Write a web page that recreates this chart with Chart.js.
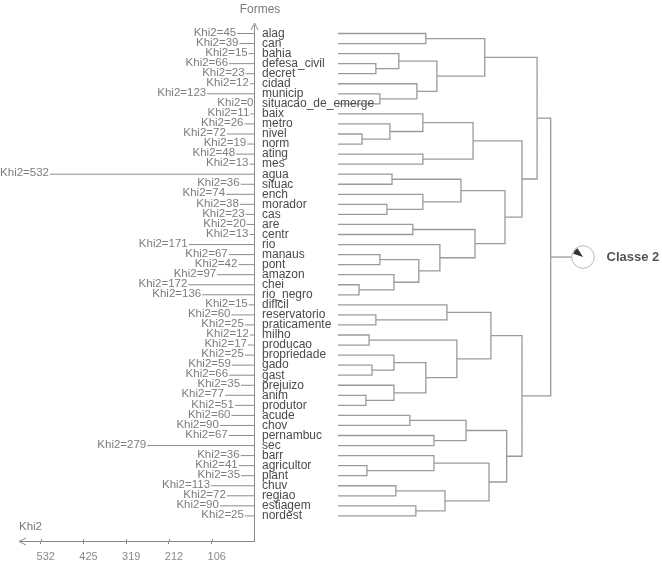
<!DOCTYPE html>
<html>
<head>
<meta charset="utf-8">
<script src="https://cdn.jsdelivr.net/npm/chart.js@4.4.1/dist/chart.umd.min.js"></script>
<style>
  html, body { margin: 0; padding: 0; background: #ffffff; }
  canvas { display: block; }
</style>
</head>
<body>
<canvas id="c" width="662" height="570"></canvas>
<script>
// ---------------- DATA ----------------
const leaves = [
  'alag', 'can', 'bahia', 'defesa_civil', 'decret', 'cidad', 'municip', 'situacao_de_emerge',
  'baix', 'metro', 'nivel', 'norm', 'ating', 'mes', 'agua', 'situac', 'ench', 'morador',
  'cas', 'are', 'centr', 'rio', 'manaus', 'pont', 'amazon', 'chei', 'rio_negro',
  'dificil', 'reservatorio', 'praticamente', 'milho', 'producao', 'propriedade', 'gado',
  'gast', 'prejuizo', 'anim', 'produtor', 'acude', 'chov', 'pernambuc', 'sec', 'barr',
  'agricultor', 'plant', 'chuv', 'regiao', 'estiagem', 'nordest'
];
const khi2 = [
  45, 39, 15, 66, 23, 12, 123, 0,
  11, 26, 72, 19, 48, 13, 532, 36, 74, 38,
  23, 20, 13, 171, 67, 42, 97, 172, 136,
  15, 60, 25, 12, 17, 25, 59,
  66, 35, 77, 51, 60, 90, 67, 279, 36,
  41, 35, 113, 72, 90, 25
];
const khiTicks = [532, 425.6, 319.2, 212.8, 106.4];
const khiTickLabels = ['532', '425', '319', '212', '106'];
// Dendrogram merges: [childA, childB, height(0-100)]; ids < 49 are leaves, id 49+k is merge k
const merges = [
  [3, 4, 17.8], [2, 49, 28.6], [6, 7, 19.7], [5, 51, 37.1], [50, 52, 46.5],
  [0, 1, 41.3], [54, 53, 69.0], [10, 11, 11.3], [9, 56, 24.4], [8, 57, 39.9],
  [12, 13, 39.9], [58, 59, 63.5], [14, 15, 25.4], [17, 18, 23.0], [16, 62, 39.9],
  [61, 63, 57.8], [19, 20, 35.2], [22, 23, 19.7], [25, 26, 9.9], [24, 67, 26.3],
  [66, 68, 38.0], [21, 69, 47.9], [65, 70, 64.4], [64, 71, 78.5], [60, 72, 86.5],
  [55, 73, 93.6], [28, 29, 17.8], [27, 75, 51.2], [30, 31, 14.6], [33, 34, 16.0],
  [32, 78, 26.3], [36, 37, 13.1], [35, 80, 26.3], [79, 81, 41.3], [77, 82, 55.9],
  [76, 83, 71.9], [38, 39, 33.8], [40, 41, 45.1], [85, 86, 60.2], [43, 44, 13.6],
  [42, 88, 45.1], [45, 46, 27.2], [47, 48, 36.6], [90, 91, 50.3], [89, 92, 71.0],
  [87, 93, 79.3], [84, 94, 86.5], [74, 95, 100]
];
const classLabel = 'Classe 2';
const classShare = 0.11;
const yAxisTitle = 'Formes';
const xAxisTitle = 'Khi2';

// ---------------- LAYOUT ----------------
const W = 662, H = 570;
const AREA = { left: 40.7, right: 580, top: 25, bottom: 541 };
const X_ZERO = 254.5;      // pixel of Khi2 = 0
const TICK_MAX_PX = 40.7;  // pixel of 532 on the bottom axis
const LAB_MAX_PX = 50;     // pixel where the longest Khi2 line starts
const DEND_ZERO = 338, DEND_FULL = 550.7;
const LEAF0 = 33.5, LEAF_STEP = 10.05;

const k1 = (X_ZERO - TICK_MAX_PX) / 532;
const k2 = (X_ZERO - LAB_MAX_PX) / 532;
const k3 = (DEND_FULL - DEND_ZERO) / 100;

const LINE_GREY = '#9a9a9a';

// ---------------- BUILD LINE DATA ----------------
const N = leaves.length;
const nodeY = [], nodeH = [];
for (let i = 0; i < N; i++) { nodeY[i] = i; nodeH[i] = 0; }
const dendData = [];
merges.forEach((m, k) => {
  const [a, b, h] = m;
  const id = N + k;
  nodeY[id] = (nodeY[a] + nodeY[b]) / 2;
  nodeH[id] = h;
  dendData.push({ x: nodeH[a], y: nodeY[a] });
  dendData.push({ x: h, y: nodeY[a] });
  dendData.push({ x: h, y: nodeY[b] });
  dendData.push({ x: nodeH[b], y: nodeY[b] });
  dendData.push({ x: null, y: null });
});
const rootId = N + merges.length - 1;

const khiData = [];
khi2.forEach((v, i) => {
  khiData.push({ x: v, y: i });
  khiData.push({ x: 0, y: i });
  khiData.push({ x: null, y: null });
});

// ---------------- PLUGIN ----------------
const FONT = '"Liberation Sans", Arial, Helvetica, sans-serif';
const decor = {
  id: 'decor',
  afterDatasetsDraw(chart) {
    const { ctx, scales, chartArea } = chart;
    const xk = scales.khi, xl = scales.khiLab, xd = scales.dend, ys = scales.y;
    const x0 = xk.getPixelForValue(0);
    const yb = chartArea.bottom;
    ctx.save();
    // horizontal axis line with left arrow
    ctx.strokeStyle = '#8a8a8a';
    ctx.lineWidth = 1;
    ctx.beginPath();
    ctx.moveTo(19, yb + 0.5);
    ctx.lineTo(x0, yb + 0.5);
    ctx.stroke();
    ctx.beginPath();
    ctx.moveTo(26, yb - 3);
    ctx.lineTo(19, yb + 0.5);
    ctx.lineTo(26, yb + 4);
    ctx.stroke();
    // small tick marks crossing the axis line (upper half)
    khiTicks.forEach(v => {
      const px = Math.round(xk.getPixelForValue(v)) + 0.5;
      ctx.beginPath();
      ctx.moveTo(px, yb - 2);
      ctx.lineTo(px, yb + 1);
      ctx.stroke();
    });
    // vertical axis arrow
    ctx.beginPath();
    ctx.moveTo(x0 - 3.5, chartArea.top + 5);
    ctx.lineTo(x0, chartArea.top - 2);
    ctx.lineTo(x0 + 3.5, chartArea.top + 5);
    ctx.stroke();

    // leaf labels
    ctx.font = '12px ' + FONT;
    ctx.fillStyle = '#4a4a4a';
    ctx.textAlign = 'left';
    ctx.textBaseline = 'middle';
    leaves.forEach((w, i) => ctx.fillText(w, x0 + 7.5, ys.getPixelForValue(i)));

    // Khi2 labels
    ctx.font = '11.5px ' + FONT;
    ctx.fillStyle = '#7d7d7d';
    ctx.textAlign = 'right';
    khi2.forEach((v, i) => ctx.fillText('Khi2=' + v, xl.getPixelForValue(v) - 1, ys.getPixelForValue(i) - 1));

    // axis titles
    ctx.font = '12px ' + FONT;
    ctx.fillStyle = '#7a7a7a';
    ctx.textAlign = 'center';
    ctx.fillText(yAxisTitle, x0 + 5.5, 9.5);
    ctx.font = '11.5px ' + FONT;
    ctx.textAlign = 'left';
    ctx.fillText(xAxisTitle, 19, yb - 14);

    // root stub + class pie
    const rx = xd.getPixelForValue(nodeH[rootId]);
    const ry = ys.getPixelForValue(nodeY[rootId]);
    const r = 11.3;
    const cx = rx + 32.3;
    ctx.strokeStyle = LINE_GREY;
    ctx.lineWidth = 1.3;
    ctx.beginPath();
    ctx.moveTo(rx, ry);
    ctx.lineTo(cx - r, ry);
    ctx.stroke();
    ctx.beginPath();
    ctx.arc(cx, ry, r, 0, Math.PI * 2);
    ctx.fillStyle = '#ffffff';
    ctx.fill();
    ctx.strokeStyle = '#b8b8b8';
    ctx.lineWidth = 1;
    ctx.stroke();
    const a0 = -162 * Math.PI / 180;
    ctx.beginPath();
    ctx.moveTo(cx, ry);
    ctx.arc(cx, ry, r - 1, a0, a0 + classShare * Math.PI * 2);
    ctx.closePath();
    ctx.fillStyle = '#333333';
    ctx.fill();

    ctx.font = 'bold 13px ' + FONT;
    ctx.fillStyle = '#555555';
    ctx.textAlign = 'left';
    ctx.textBaseline = 'middle';
    ctx.fillText(classLabel, cx + 23.5, ry);
    ctx.restore();
  }
};

// ---------------- CHART ----------------
new Chart(document.getElementById('c'), {
  type: 'line',
  data: {
    datasets: [
      {
        label: 'Khi2',
        data: khiData,
        xAxisID: 'khiLab',
        yAxisID: 'y',
        borderColor: '#8c8c8c',
        borderWidth: 1,
        pointRadius: 0,
        tension: 0,
        fill: false,
        spanGaps: false
      },
      {
        label: 'dendrogramme',
        data: dendData,
        xAxisID: 'dend',
        yAxisID: 'y',
        borderColor: LINE_GREY,
        borderWidth: 1.3,
        pointRadius: 0,
        tension: 0,
        fill: false,
        spanGaps: false
      }
    ]
  },
  options: {
    responsive: false,
    animation: false,
    events: [],
    layout: {
      padding: { left: AREA.left, right: W - AREA.right, top: AREA.top, bottom: 0 }
    },
    plugins: { legend: { display: false }, tooltip: { enabled: false } },
    scales: {
      khi: {
        type: 'linear',
        axis: 'x',
        position: 'bottom',
        reverse: true,
        min: -(AREA.right - X_ZERO) / k1,
        max: (X_ZERO - AREA.left) / k1,
        afterBuildTicks: (s) => { s.ticks = khiTicks.map(v => ({ value: v })); },
        afterFit: (s) => { s.height = H - AREA.bottom; },
        border: { display: false },
        grid: { display: true, drawOnChartArea: false, drawTicks: true, tickLength: 3, color: '#8a8a8a', lineWidth: 1 },
        ticks: {
          autoSkip: false,
          maxRotation: 0,
          padding: 6,
          labelOffset: 5,
          color: '#8a8a8a',
          font: { family: FONT, size: 11 },
          callback: (v) => { const i = khiTicks.indexOf(v); return i >= 0 ? khiTickLabels[i] : ''; }
        }
      },
      khiLab: {
        type: 'linear',
        axis: 'x',
        display: false,
        reverse: true,
        min: -(AREA.right - X_ZERO) / k2,
        max: (X_ZERO - AREA.left) / k2
      },
      dend: {
        type: 'linear',
        axis: 'x',
        display: false,
        min: (AREA.left - DEND_ZERO) / k3,
        max: (AREA.right - DEND_ZERO) / k3
      },
      y: {
        type: 'linear',
        axis: 'y',
        position: { khi: 0 },
        reverse: true,
        min: (AREA.top - LEAF0) / LEAF_STEP,
        max: (AREA.bottom - LEAF0) / LEAF_STEP,
        border: { display: true, color: '#8a8a8a', width: 1 },
        grid: { display: false },
        ticks: { display: false }
      }
    }
  },
  plugins: [decor]
});
</script>
</body>
</html>
